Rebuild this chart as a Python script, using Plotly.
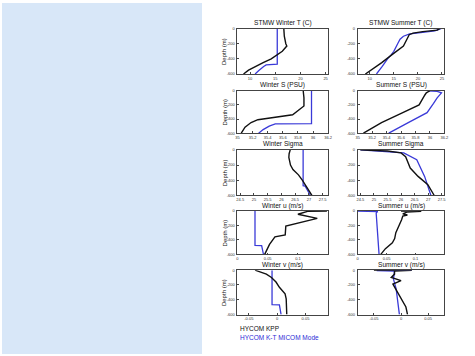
import plotly.graph_objects as go

W, H = 475, 356

# ---------------- data (depth in m, negative downward) ----------------
wT_kpp_d = [0, -100, -200, -230, -300, -350, -400, -450, -500, -550, -600]
wT_kpp   = [16.7, 16.8, 17.1, 17.3, 16.4, 15.4, 14.2, 12.6, 11.0, 9.7, 8.7]
wT_kt_d  = [0, -470, -480, -500, -550, -600]
wT_kt    = [15.4, 15.4, 13.2, 12.7, 11.8, 11.0]

sT_kpp_d = [0, -20, -40, -60, -80, -150, -230, -350, -450, -600]
sT_kpp   = [24.5, 24.0, 21.0, 19.0, 18.2, 17.7, 17.0, 14.5, 12.5, 9.1]
sT_kt_d  = [0, -30, -50, -70, -100, -140, -200, -300, -350, -400, -500, -600]
sT_kt    = [24.8, 23.5, 21.0, 18.3, 17.0, 16.3, 15.8, 15.0, 14.4, 13.7, 12.6, 11.4]

wS_kpp_d = [0, -100, -215, -340, -410, -450, -515, -560, -600]
wS_kpp   = [35.87, 35.88, 35.88, 35.73, 35.27, 35.18, 35.10, 35.07, 35.05]
wS_kt_d  = [0, -465, -470, -500, -550, -600]
wS_kt    = [35.98, 35.98, 35.50, 35.42, 35.34, 35.28]

sS_kpp_d = [0, -30, -60, -200, -330, -450, -600]
sS_kpp   = [36.0, 35.95, 35.93, 35.85, 35.58, 35.33, 35.08]
sS_kt_d  = [0, -10, -30, -100, -180, -310, -450, -600]
sS_kt    = [35.97, 36.10, 36.16, 36.10, 36.05, 35.96, 35.70, 35.43]

wSig_kpp_d = [0, -50, -100, -200, -260, -330, -400, -450, -500, -550, -600]
wSig_kpp   = [26.32, 26.28, 26.27, 26.33, 26.42, 26.62, 26.76, 26.84, 26.94, 27.03, 27.11]
wSig_kt_d  = [0, -474, -478, -600]
wSig_kt    = [26.79, 26.79, 26.86, 27.05]

sSig_kpp_d = [0, -15, -40, -90, -240, -350, -460, -600]
sSig_kpp   = [24.5, 25.5, 26.0, 26.17, 26.34, 26.63, 26.99, 27.22]
sSig_kt_d  = [0, -20, -40, -130, -350, -600]
sSig_kt    = [24.5, 25.5, 26.1, 26.58, 26.87, 27.10]

wU_kpp_d = [0, -5, -44, -102, -209, -329, -356, -462, -600]
wU_kpp   = [0.148, 0.116, 0.100, 0.132, 0.080, 0.079, 0.062, 0.053, 0.045]
wU_kt_d  = [0, -476, -478, -600]
wU_kt    = [0.029, 0.029, 0.040, 0.043]

sU_kpp_d = [0, -3, -15, -40, -55, -70, -120, -200, -300, -380, -440, -520, -600]
sU_kpp   = [0.075, 0.110, 0.085, 0.078, 0.086, 0.078, 0.076, 0.072, 0.066, 0.064, 0.060, 0.048, 0.040]
sU_kt_d  = [0, -3, -8, -15, -30, -600]
sU_kt    = [0.0, 0.010, 0.035, 0.033, 0.032, 0.037]

wV_kpp_d = [0, -53, -98, -160, -231, -320, -387, -600]
wV_kpp   = [-0.039, -0.019, -0.010, -0.002, 0.004, 0.014, 0.016, 0.017]
wV_kt_d  = [0, -467, -470, -600]
wV_kt    = [-0.009, -0.009, 0.004, 0.007]

sV_kpp_d = [0, -3, -6, -10, -53, -98, -142, -187, -253, -330, -409, -498, -600]
sV_kpp   = [-0.05, 0.02, -0.04, -0.012, -0.012, -0.018, 0.000, -0.015, -0.010, -0.004, 0.003, 0.009, 0.012]
sV_kt_d  = [0, -4, -8, -12, -120, -253, -600]
sV_kt    = [0.02, -0.045, 0.015, -0.012, -0.014, -0.009, -0.003]

titles = ["STMW Winter T (C)", "STMW Summer T (C)", "Winter S (PSU)", "Summer S (PSU)",
          "Winter Sigma", "Summer Sigma", "Winter u (m/s)", "Summer u (m/s)",
          "Winter v (m/s)", "Summer v (m/s)"]

T_ticks = [10, 15, 20, 25]
S_ticks = [35, 35.2, 35.4, 35.6, 35.8, 36, 36.2]
Sig_ticks = [24.5, 25, 25.5, 26, 26.5, 27, 27.5]
U_ticks = [0, 0.05, 0.1]
V_ticks = [-0.05, 0, 0.05]
depth_ticks = [0, -200, -400, -600]

legend_labels = ["HYCOM KPP", "HYCOM K-T MICOM Mode"]

# ---------------- layout helpers ----------------
KPP_COLOR = "#111111"
KT_COLOR = "#3a3ad8"

cols = [(239, 331), (361, 449)]
rows = [(26, 72), (89, 132), (149, 195), (211, 255), (271, 316)]

panels = [
    (wT_kpp_d, wT_kpp, wT_kt_d, wT_kt, [7.5, 25.5], T_ticks),
    (sT_kpp_d, sT_kpp, sT_kt_d, sT_kt, [7.5, 25.5], T_ticks),
    (wS_kpp_d, wS_kpp, wS_kt_d, wS_kt, [35, 36.2], S_ticks),
    (sS_kpp_d, sS_kpp, sS_kt_d, sS_kt, [35, 36.2], S_ticks),
    (wSig_kpp_d, wSig_kpp, wSig_kt_d, wSig_kt, [24.4, 27.7], Sig_ticks),
    (sSig_kpp_d, sSig_kpp, sSig_kt_d, sSig_kt, [24.4, 27.6], Sig_ticks),
    (wU_kpp_d, wU_kpp, wU_kt_d, wU_kt, [0, 0.15], U_ticks),
    (sU_kpp_d, sU_kpp, sU_kt_d, sU_kt, [0, 0.15], U_ticks),
    (wV_kpp_d, wV_kpp, wV_kt_d, wV_kt, [-0.07, 0.09], V_ticks),
    (sV_kpp_d, sV_kpp, sV_kt_d, sV_kt, [-0.08, 0.08], V_ticks),
]

fig = go.Figure()
layout = dict(width=W, height=H, margin=dict(l=0, r=0, t=0, b=0),
              paper_bgcolor="white", plot_bgcolor="white", showlegend=False,
              font=dict(family="Liberation Sans, Arial, sans-serif", color="#222"))
annotations = []

for i, (kd, kv, td, tv, xr, xt) in enumerate(panels):
    r, c = divmod(i, 2)
    x0, x1 = cols[c]
    y0, y1 = rows[r]
    n = i + 1
    xa = "x" if n == 1 else f"x{n}"
    ya = "y" if n == 1 else f"y{n}"
    fig.add_trace(go.Scatter(x=tv, y=td, mode="lines", xaxis=xa, yaxis=ya,
                             line=dict(color=KT_COLOR, width=1.3)))
    fig.add_trace(go.Scatter(x=kv, y=kd, mode="lines", xaxis=xa, yaxis=ya,
                             line=dict(color=KPP_COLOR, width=1.4)))
    axcommon = dict(showgrid=False, zeroline=False, showline=True, mirror=True,
                    linecolor="#444", linewidth=0.8, ticks="inside", ticklen=2,
                    tickcolor="#444", tickfont=dict(size=4, color="#333"))
    layout["xaxis" if n == 1 else f"xaxis{n}"] = dict(
        domain=[x0 / W, x1 / W], range=xr, anchor=ya, tickvals=xt,
        ticktext=[f"{v:g}" for v in xt], ticklabelstandoff=0, **axcommon)
    layout["yaxis" if n == 1 else f"yaxis{n}"] = dict(
        domain=[1 - y1 / H, 1 - y0 / H], range=[-600, 0], anchor=xa,
        tickvals=depth_ticks, ticktext=[str(v) for v in depth_ticks],
        ticklabelstandoff=1, **axcommon)
    annotations.append(dict(text=titles[i], xref="paper", yref="paper",
                            x=(x0 + x1) / 2 / W, y=1 - (y0 - 0.5) / H,
                            xanchor="center", yanchor="bottom", showarrow=False,
                            borderpad=0,
                            font=dict(size=6.6, color="#111")))
    if c == 0:
        annotations.append(dict(text="Depth (m)", xref="paper", yref="paper",
                                x=226 / W, y=1 - (y0 + y1) / 2 / H, textangle=-90,
                                xanchor="center", yanchor="middle", showarrow=False,
                                font=dict(size=6, color="#111")))

annotations.append(dict(text=legend_labels[0], xref="paper", yref="paper",
                        x=240 / W, y=1 - 330 / H, xanchor="left", yanchor="middle",
                        showarrow=False, font=dict(size=6.5, color="#111")))
annotations.append(dict(text=legend_labels[1], xref="paper", yref="paper",
                        x=240 / W, y=1 - 339 / H, xanchor="left", yanchor="middle",
                        showarrow=False, font=dict(size=6.5, color="#2b2bd6")))

layout["annotations"] = annotations
layout["shapes"] = [dict(type="rect", xref="paper", yref="paper", x0=0, x1=203 / W,
                         y0=0, y1=1, fillcolor="#d8e7f8", line=dict(width=0), layer="below")]
fig.update_layout(**layout)
fig.write_html("out.html", config={"displayModeBar": False},
               post_script="document.body.style.margin='0';document.body.style.padding='0';"
                           "document.body.style.overflow='hidden';")
